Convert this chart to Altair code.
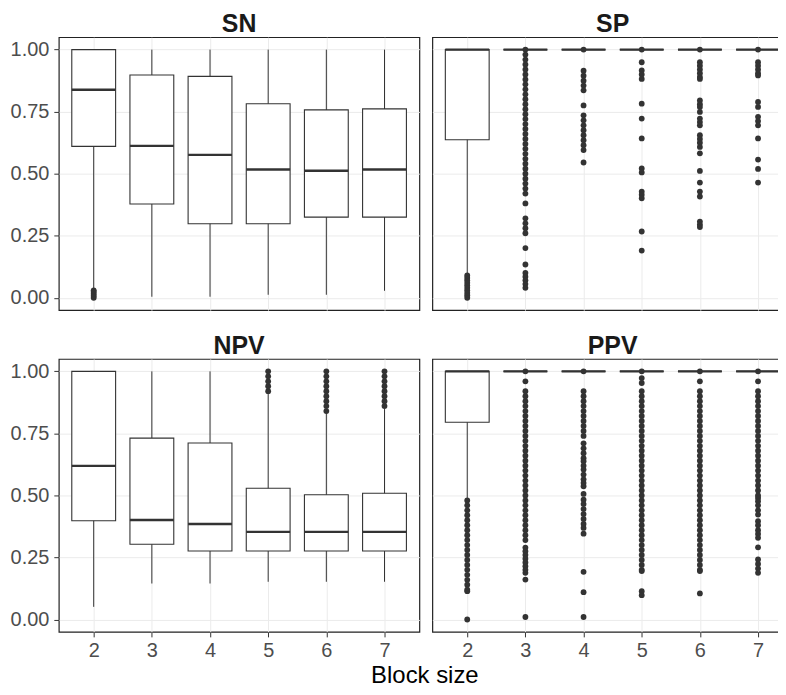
import altair as alt
import pandas as pd

BLOCKS = [2, 3, 4, 5, 6, 7]
PANELS = ["SN", "SP", "NPV", "PPV"]
Y_TICKS = [0.0, 0.25, 0.5, 0.75, 1.0]

# ---- SN ----
SN_LOW = [0.035, 0.004, 0.004, 0.012, 0.012, 0.028]
SN_Q1 = [0.610, 0.378, 0.298, 0.298, 0.325, 0.325]
SN_MED = [0.838, 0.612, 0.576, 0.517, 0.512, 0.517]
SN_Q3 = [1.000, 0.898, 0.892, 0.782, 0.757, 0.761]
SN_HIGH = [1.0, 1.0, 1.0, 1.0, 1.0, 1.0]
SN_OUT = [
    [0.0, 0.008, 0.016, 0.024, 0.03],
    [], [], [], [], [],
]

# ---- SP ----
SP_LOW = [0.095, 1.0, 1.0, 1.0, 1.0, 1.0]
SP_Q1 = [0.637, 1.0, 1.0, 1.0, 1.0, 1.0]
SP_MED = [1.0, 1.0, 1.0, 1.0, 1.0, 1.0]
SP_Q3 = [1.0, 1.0, 1.0, 1.0, 1.0, 1.0]
SP_HIGH = [1.0, 1.0, 1.0, 1.0, 1.0, 1.0]
SP_OUT = [
    [0.0, 0.01, 0.02, 0.03, 0.04, 0.05, 0.06, 0.07, 0.08, 0.09],
    [1.0, 0.98, 0.96, 0.94, 0.92, 0.90, 0.88, 0.86, 0.84, 0.82, 0.80, 0.78,
     0.76, 0.74, 0.72, 0.70, 0.68, 0.66, 0.64, 0.62, 0.60, 0.58, 0.56, 0.54,
     0.52, 0.50, 0.48, 0.46, 0.44, 0.42, 0.38, 0.32, 0.30, 0.28, 0.26, 0.20,
     0.134, 0.10, 0.085, 0.07, 0.055, 0.04],
    [1.0, 0.915, 0.895, 0.875, 0.855, 0.836, 0.775, 0.735, 0.715, 0.695,
     0.675, 0.655, 0.635, 0.615, 0.595, 0.545],
    [1.0, 0.949, 0.916, 0.9, 0.882, 0.782, 0.722, 0.642, 0.521, 0.505, 0.428,
     0.415, 0.401, 0.267, 0.19],
    [1.0, 0.949, 0.935, 0.92, 0.905, 0.89, 0.882, 0.795, 0.78, 0.769, 0.749,
     0.722, 0.708, 0.695, 0.655, 0.64, 0.625, 0.608, 0.582, 0.511, 0.464,
     0.428, 0.408, 0.307, 0.295, 0.285],
    [1.0, 0.949, 0.935, 0.92, 0.905, 0.896, 0.789, 0.769, 0.729, 0.712, 0.695,
     0.642, 0.557, 0.519, 0.464],
]

# ---- NPV ----
NPV_LOW = [0.051, 0.145, 0.145, 0.152, 0.152, 0.152]
NPV_Q1 = [0.398, 0.303, 0.276, 0.276, 0.276, 0.276]
NPV_MED = [0.619, 0.401, 0.385, 0.353, 0.353, 0.353]
NPV_Q3 = [1.000, 0.731, 0.711, 0.529, 0.503, 0.509]
NPV_HIGH = [1.0, 1.0, 1.0, 0.91, 0.832, 0.848]
NPV_OUT = [
    [], [], [],
    [0.92, 0.94, 0.96, 0.98, 1.0],
    [0.84, 0.86, 0.88, 0.90, 0.92, 0.94, 0.96, 0.98, 1.0],
    [0.86, 0.88, 0.90, 0.92, 0.94, 0.96, 0.98, 1.0],
]

# ---- PPV ----
PPV_LOW = [0.49, 1.0, 1.0, 1.0, 1.0, 1.0]
PPV_Q1 = [0.795, 1.0, 1.0, 1.0, 1.0, 1.0]
PPV_MED = [1.0, 1.0, 1.0, 1.0, 1.0, 1.0]
PPV_Q3 = [1.0, 1.0, 1.0, 1.0, 1.0, 1.0]
PPV_HIGH = [1.0, 1.0, 1.0, 1.0, 1.0, 1.0]
PPV_OUT = [
    [0.48, 0.46, 0.44, 0.42, 0.40, 0.38, 0.36, 0.34, 0.32, 0.30, 0.28, 0.26,
     0.24, 0.22, 0.20, 0.18, 0.16, 0.14, 0.12, 0.114, 0.0],
    [1.0, 0.96, 0.92, 0.90, 0.88, 0.86, 0.84, 0.82, 0.80, 0.78, 0.76, 0.74,
     0.72, 0.70, 0.68, 0.66, 0.64, 0.62, 0.60, 0.58, 0.56, 0.54, 0.52, 0.50,
     0.48, 0.46, 0.44, 0.42, 0.40, 0.38, 0.36, 0.34, 0.32, 0.29, 0.275, 0.26,
     0.245, 0.23, 0.215, 0.20, 0.188, 0.161, 0.01],
    [1.0, 0.92, 0.90, 0.88, 0.86, 0.84, 0.82, 0.80, 0.78, 0.76, 0.74, 0.71,
     0.69, 0.67, 0.65, 0.638, 0.62, 0.604, 0.584, 0.565, 0.55, 0.537, 0.506,
     0.483, 0.465, 0.445, 0.425, 0.405, 0.385, 0.369, 0.346, 0.192, 0.11, 0.01],
    [1.0, 0.973, 0.953, 0.92, 0.90, 0.88, 0.86, 0.84, 0.82, 0.80, 0.78, 0.76,
     0.74, 0.72, 0.70, 0.68, 0.66, 0.64, 0.62, 0.60, 0.58, 0.56, 0.54, 0.52,
     0.50, 0.48, 0.46, 0.44, 0.42, 0.40, 0.38, 0.36, 0.34, 0.32, 0.30, 0.28,
     0.26, 0.24, 0.22, 0.20, 0.195, 0.114, 0.098],
    [1.0, 0.96, 0.92, 0.90, 0.88, 0.86, 0.84, 0.82, 0.80, 0.78, 0.76, 0.74,
     0.72, 0.70, 0.68, 0.66, 0.64, 0.62, 0.60, 0.58, 0.56, 0.54, 0.52, 0.50,
     0.48, 0.46, 0.44, 0.42, 0.40, 0.38, 0.36, 0.34, 0.32, 0.30, 0.28, 0.26,
     0.24, 0.22, 0.20, 0.195, 0.105],
    [1.0, 0.96, 0.92, 0.90, 0.88, 0.86, 0.84, 0.82, 0.80, 0.78, 0.76, 0.74,
     0.72, 0.70, 0.68, 0.66, 0.64, 0.62, 0.60, 0.58, 0.56, 0.54, 0.52, 0.50,
     0.49, 0.477, 0.46, 0.44, 0.423, 0.396, 0.38, 0.36, 0.345, 0.329, 0.291,
     0.242, 0.224, 0.205, 0.188],
]

STATS = {
    "SN": (SN_LOW, SN_Q1, SN_MED, SN_Q3, SN_HIGH, SN_OUT),
    "SP": (SP_LOW, SP_Q1, SP_MED, SP_Q3, SP_HIGH, SP_OUT),
    "NPV": (NPV_LOW, NPV_Q1, NPV_MED, NPV_Q3, NPV_HIGH, NPV_OUT),
    "PPV": (PPV_LOW, PPV_Q1, PPV_MED, PPV_Q3, PPV_HIGH, PPV_OUT),
}

FONT = "Liberation Sans"
DARK = "#333333"
GRID = "#EBEBEB"
W, H = 362, 274
BOX_W = 44


def make_panel(name, show_x, show_y):
    low, q1, med, q3, high, outs = STATS[name]
    box_df = pd.DataFrame({"block": BLOCKS, "low": low, "q1": q1, "med": med,
                           "q3": q3, "high": high})
    rows = []
    for b, vals in zip(BLOCKS, outs):
        for v in vals:
            rows.append({"block": b, "value": v})
    out_df = pd.DataFrame(rows, columns=["block", "value"])

    if show_x:
        xaxis = alt.Axis(title=None, labelAngle=0, labelFontSize=20,
                         labelColor="#4D4D4D", labelFont=FONT, tickSize=5,
                         tickColor=DARK, tickWidth=1, labelPadding=4,
                         domain=False, grid=True, gridColor=GRID, gridWidth=1)
    else:
        xaxis = alt.Axis(title=None, labels=False, ticks=False, domain=False,
                         grid=True, gridColor=GRID, gridWidth=1,
                         minExtent=0, maxExtent=0)
    if show_y:
        yaxis = alt.Axis(title=None, values=Y_TICKS, format=".2f",
                         labelFontSize=20, labelColor="#4D4D4D", labelFont=FONT,
                         tickSize=5, tickColor=DARK, tickWidth=1, labelPadding=5,
                         domain=False, grid=True, gridColor=GRID, gridWidth=1,
                         minExtent=50, maxExtent=50)
    else:
        yaxis = alt.Axis(title=None, values=Y_TICKS, labels=False, ticks=False,
                         domain=False, grid=True, gridColor=GRID, gridWidth=1,
                         minExtent=0, maxExtent=0)

    x = alt.X("block:O", scale=alt.Scale(type="point", padding=0.6),
              axis=xaxis, sort=BLOCKS)
    yscale = alt.Scale(domain=[-0.05, 1.05], nice=False, zero=False)

    whisk = alt.Chart(box_df).mark_rule(color=DARK, strokeWidth=1).encode(
        x=x, y=alt.Y("low:Q", scale=yscale, axis=yaxis), y2="high:Q")
    box = alt.Chart(box_df).mark_bar(size=BOX_W, fill="white", stroke=DARK,
                                     strokeWidth=1.1).encode(
        x=x, y=alt.Y("q1:Q", scale=yscale), y2="q3:Q")
    median = alt.Chart(box_df).mark_tick(size=BOX_W, thickness=2.4,
                                         color=DARK, opacity=1).encode(
        x=x, y=alt.Y("med:Q", scale=yscale))
    pts = alt.Chart(out_df).mark_circle(size=34, color=DARK, opacity=1).encode(
        x=x, y=alt.Y("value:Q", scale=yscale))

    return alt.layer(whisk, box, median, pts).properties(
        width=W, height=H,
        title=alt.TitleParams(name, fontSize=25, fontWeight="bold", font=FONT,
                              color="#1A1A1A", anchor="middle", offset=0),
    )


sn = make_panel("SN", False, True)
sp = make_panel("SP", False, False)
npv = make_panel("NPV", True, True)
ppv = make_panel("PPV", True, False)

chart = alt.vconcat(
    alt.hconcat(sn, sp, spacing=11),
    alt.hconcat(npv, ppv, spacing=11),
    spacing=22,
).properties(
    title=alt.TitleParams("Block size", orient="bottom", anchor="middle",
                          fontSize=24, fontWeight="normal", font=FONT,
                          color="black", dx=24, offset=3),
    padding={"left": 0, "top": 2, "right": -16, "bottom": -2},
).configure_view(
    stroke="#222222", strokeWidth=1.2
).configure_axis(
    labelFont=FONT
)

chart.save("out.html", embed_options={"renderer": "svg", "actions": False})
